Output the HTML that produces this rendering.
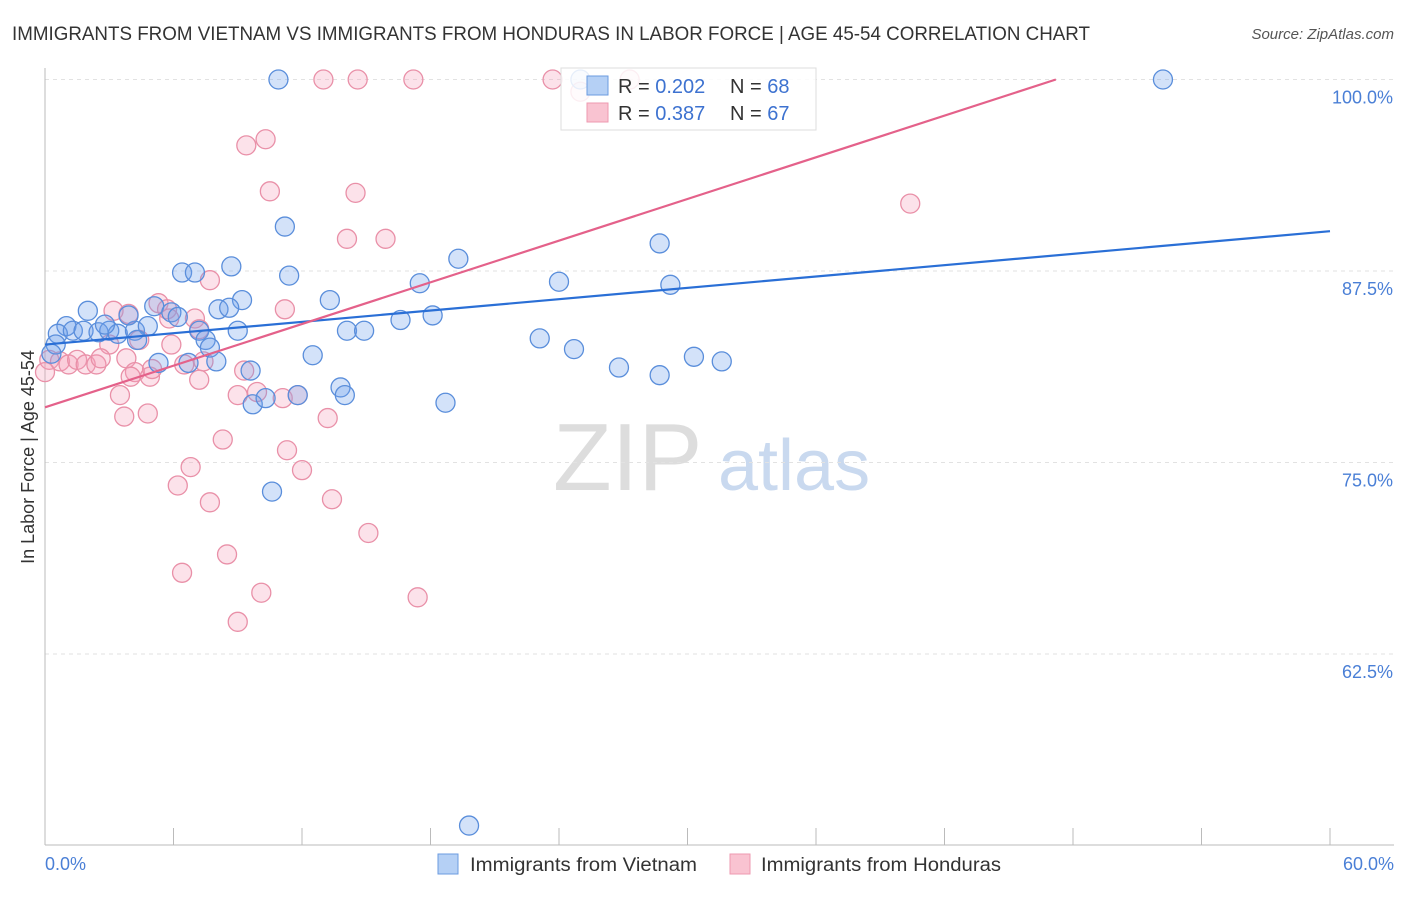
<!DOCTYPE html>
<html><head><meta charset="utf-8"><style>
body{margin:0;background:#fff;font-family:"Liberation Sans",sans-serif;}
svg text{font-family:"Liberation Sans",sans-serif;}
</style></head><body>
<svg width="1406" height="892" id="chart">
<text x="12" y="40" font-size="19" fill="#333" textLength="1078" lengthAdjust="spacingAndGlyphs">IMMIGRANTS FROM VIETNAM VS IMMIGRANTS FROM HONDURAS IN LABOR FORCE | AGE 45-54 CORRELATION CHART</text>
<text x="1394" y="39" font-size="15" fill="#555" font-style="italic" text-anchor="end">Source: ZipAtlas.com</text>
<g><text x="553" y="490" font-size="96" font-family="Liberation Serif" fill="#ddd">ZIP</text><text x="718" y="490" font-size="72" fill="#c9d9ef">atlas</text></g>
<g id="grid"></g>
<line x1="45" y1="68" x2="45" y2="845" stroke="#bbb"/>
<line x1="45" y1="845" x2="1394" y2="845" stroke="#bbb"/>
<text transform="translate(34,457) rotate(-90)" font-size="18" fill="#333" text-anchor="middle">In Labor Force | Age 45-54</text>
<text x="45" y="870" font-size="18" fill="#4a7fd6">0.0%</text>
<text x="1394" y="870" font-size="18" fill="#4a7fd6" text-anchor="end">60.0%</text>
<g id="points"></g>
<g id="lines"></g>
<g>
<rect x="561" y="68" width="255" height="62" fill="#fff" fill-opacity="0.85" stroke="#ddd"/>
<rect x="587" y="76" width="21" height="19" fill="#b5d0f5" stroke="#6b9be0"/>
<rect x="587" y="103" width="21" height="19" fill="#f9c3d1" stroke="#ee9ab0"/>
<text x="618" y="93" font-size="20" fill="#333">R = <tspan fill="#3d72d0">0.202</tspan></text>
<text x="730" y="93" font-size="20" fill="#333">N = <tspan fill="#3d72d0">68</tspan></text>
<text x="618" y="120" font-size="20" fill="#333">R = <tspan fill="#3d72d0">0.387</tspan></text>
<text x="730" y="120" font-size="20" fill="#333">N = <tspan fill="#3d72d0">67</tspan></text>
</g>
<g>
<rect x="438" y="854" width="20" height="20" fill="#b5d0f5" stroke="#6b9be0"/>
<text x="470" y="871" font-size="19" fill="#333" textLength="227" lengthAdjust="spacingAndGlyphs">Immigrants from Vietnam</text>
<rect x="730" y="854" width="20" height="20" fill="#f9c3d1" stroke="#ee9ab0"/>
<text x="761" y="871" font-size="19" fill="#333" textLength="240" lengthAdjust="spacingAndGlyphs">Immigrants from Honduras</text>
</g>
</svg>
<script>
const yTicks=[100,87.5,75,62.5];
const yTickLabels=["100.0%","87.5%","75.0%","62.5%"];
const xTicks=[0,6,12,18,24,30,36,42,48,54,60];
const blueX=[10.9,52.2,25.0,11.2,28.7,19.3,8.7,6.4,7.0,11.4,17.5,24.0,29.2,9.2,13.3,2.0,5.1,8.1,8.6,5.9,6.2,16.6,18.1,1.0,0.6,1.3,1.8,2.5,3.0,3.4,4.2,4.8,2.8,3.9,7.2,9.0,14.1,14.9,4.3,7.5,23.1,7.7,24.7,0.5,0.3,12.5,30.3,31.6,5.3,6.7,8.0,9.6,26.8,28.7,13.8,14.0,9.7,10.3,11.8,18.7,10.6,19.8];
const blueY=[100,100,100,90.4,89.3,88.3,87.8,87.4,87.4,87.2,86.7,86.8,86.6,85.6,85.6,84.9,85.2,85.0,85.1,84.8,84.5,84.3,84.6,83.9,83.4,83.6,83.6,83.5,83.6,83.4,83.6,83.9,84.0,84.6,83.6,83.6,83.6,83.6,83.0,83.0,83.1,82.5,82.4,82.7,82.1,82.0,81.9,81.6,81.5,81.5,81.6,81.0,81.2,80.7,79.9,79.4,78.8,79.2,79.4,78.9,73.1,51.3];
const pinkX=[13.0,14.6,17.2,23.7,27.3,25.0,10.3,9.4,10.5,14.5,40.4,14.1,15.9,7.7,3.2,3.9,5.3,5.7,5.8,7.0,11.2,7.2,4.4,3.0,5.9,0.2,0.7,1.1,1.5,1.9,2.4,2.6,3.8,0.0,6.5,7.4,4.2,4.0,4.9,5.0,7.2,9.3,9.9,9.0,11.1,11.8,3.5,4.8,3.7,13.2,8.3,11.3,6.8,12.0,6.2,7.7,13.4,15.1,8.5,6.4,10.1,17.4,9.0];
const pinkY=[100,100,100,100,100,99.2,96.1,95.7,92.7,92.6,91.9,89.6,89.6,86.9,84.9,84.7,85.4,85.0,84.4,84.4,85.0,83.7,83.0,82.7,82.7,81.7,81.6,81.4,81.7,81.4,81.4,81.8,81.8,80.9,81.4,81.6,80.9,80.6,80.6,81.1,80.4,81.0,79.6,79.4,79.2,79.4,79.4,78.2,78.0,77.9,76.5,75.8,74.7,74.5,73.5,72.4,72.6,70.4,69.0,67.8,66.5,66.2,64.6];
const blueLine=[[0,82.7],[60,90.1]];
const pinkLine=[[0,78.6],[47.2,100]];
const NS="http://www.w3.org/2000/svg";
const sx=v=>45+v/60*1285;
const sy=v=>79.5+(100-v)*191.5/12.5;
function mk(t,a,p){const e=document.createElementNS(NS,t);for(const k in a)e.setAttribute(k,a[k]);p.appendChild(e);return e;}
const grid=document.getElementById('grid');
yTicks.forEach((t,i)=>{
  const l=mk('line',{x1:45,x2:1394,y1:sy(t),y2:sy(t),stroke:'#e2e2e2','stroke-dasharray':'4,4'},grid);
  
  
  const tx=mk('text',{x:1393,y:sy(t)+24,'font-size':18,fill:'#4a7fd6','text-anchor':'end'},grid);
  tx.textContent=yTickLabels[i];
  
  
});
xTicks.forEach(t=>{
  const l=mk('line',{x1:sx(t),x2:sx(t),y1:828,y2:845,stroke:'#bbb'},grid);
  
  
});
const pts=document.getElementById('points');
function series(X,Y,fill,stroke,name){
  X.forEach((x,i)=>{
    const c=mk('circle',{cx:sx(x),cy:sy(Y[i]),r:9.5,fill:fill,stroke:stroke,'stroke-width':1.3},pts);
    
    
  });
}
series(pinkX,pinkY,'rgba(244,160,185,0.3)','#e990a8','honduras-point');
series(blueX,blueY,'rgba(110,160,235,0.3)','#5a8edb','vietnam-point');
const lg=document.getElementById('lines');
const bl=mk('line',{x1:sx(blueLine[0][0]),y1:sy(blueLine[0][1]),x2:sx(blueLine[1][0]),y2:sy(blueLine[1][1]),stroke:'#2a6fd6','stroke-width':2.2},lg);


const pl=mk('line',{x1:sx(pinkLine[0][0]),y1:sy(pinkLine[0][1]),x2:sx(pinkLine[1][0]),y2:sy(pinkLine[1][1]),stroke:'#e4618a','stroke-width':2.2},lg);


</script>
</body></html>
